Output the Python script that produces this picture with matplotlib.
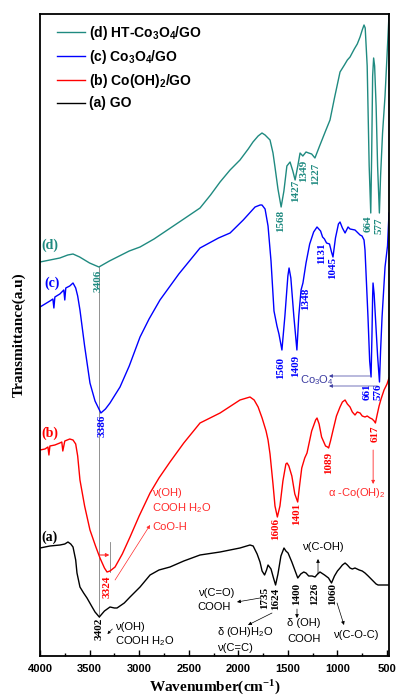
import matplotlib
matplotlib.use('Agg')
import matplotlib.pyplot as plt
from matplotlib.ticker import MultipleLocator

plt.rcParams['mathtext.fontset'] = 'custom'
plt.rcParams['mathtext.rm'] = 'Liberation Sans'
plt.rcParams['mathtext.sf'] = 'Liberation Sans:bold'
plt.rcParams['mathtext.bf'] = 'Liberation Serif:bold'
plt.rcParams['mathtext.it'] = 'Liberation Sans:italic'

SANS = ['Liberation Sans', 'DejaVu Sans']
SERIF = ['Liberation Serif', 'DejaVu Serif']

TEAL = '#1f8a80'
BLUE = '#0000ff'
RED = '#ff0000'
BLACK = '#000000'
GRAY = '#808080'

# ---------------- data (wavenumber, transmittance a.u.) ----------------
wn_d = [4000, 3900, 3800, 3720, 3667, 3600, 3500, 3406, 3300, 3200, 3100, 2991, 2850, 2700,
        2550, 2386, 2280, 2184, 2083, 1983, 1900, 1852, 1800, 1761, 1730, 1700, 1680, 1650,
        1630, 1600, 1568, 1540, 1510, 1478, 1450, 1427, 1400, 1377, 1349, 1317, 1290, 1260,
        1227, 1180, 1120, 1075, 1030, 974, 930, 900, 873, 830, 800, 772, 750, 732, 720, 700,
        680, 664, 655, 645, 635, 625, 610, 595, 577, 565, 545, 520, 500, 480]
tr_d = [394, 396, 398, 401, 402, 399, 393, 389, 395, 400, 405, 409, 417, 427,
        437, 448, 461, 474, 486, 496, 507, 514, 520, 523, 521, 518, 516, 503,
        489, 467, 449, 465, 490, 494, 485, 476, 490, 503, 500, 504, 503, 502,
        498, 510, 525, 536, 558, 584, 591, 596, 599, 607, 612, 619, 626, 631, 628, 590,
        490, 443, 500, 580, 598, 590, 550, 490, 443, 480, 523, 560, 600, 641]

wn_c = [4000, 3950, 3900, 3870, 3860, 3850, 3800, 3760, 3750, 3740, 3700, 3667, 3640, 3620,
        3597, 3550, 3496, 3445, 3386, 3340, 3294, 3250, 3193, 3100, 2991, 2900, 2790, 2600,
        2386, 2200, 2083, 1950, 1831, 1780, 1761, 1730, 1700, 1670, 1640, 1610, 1590, 1560,
        1530, 1500, 1488, 1470, 1440, 1409, 1390, 1367, 1348, 1317, 1280, 1240, 1206, 1170,
        1150, 1131, 1110, 1080, 1060, 1045, 1020, 990, 974, 950, 923, 893, 873, 823, 772,
        752, 732, 722, 692, 675, 661, 652, 645, 641, 630, 612, 595, 576, 565, 550, 520, 495, 480]
tr_c = [349, 352, 355, 357, 348, 359, 362, 366, 356, 368, 370, 373, 368, 360,
        346, 310, 273, 255, 243, 247, 253, 260, 269, 290, 319, 337, 356, 382,
        408, 418, 423, 436, 449, 451, 451, 447, 430, 395, 345, 330, 322, 306,
        340, 380, 388, 378, 340, 306, 340, 366, 373, 393, 412, 424, 429, 425,
        419, 417, 413, 412, 404, 399, 418, 432, 434, 428, 423, 429, 427, 426, 421,
        420, 416, 406, 339, 295, 279, 320, 360, 373, 362, 330, 300, 274, 305, 339, 389, 410, 443]

wn_b = [4000, 3950, 3920, 3910, 3900, 3850, 3800, 3780, 3770, 3750, 3700, 3667, 3640, 3620,
        3597, 3550, 3496, 3440, 3395, 3350, 3324, 3294, 3243, 3170, 3092, 3000, 2890, 2800,
        2689, 2550, 2386, 2184, 1983, 1882, 1840, 1800, 1760, 1720, 1700, 1680, 1650, 1630,
        1606, 1580, 1550, 1520, 1508, 1490, 1460, 1430, 1401, 1380, 1360, 1330, 1307, 1260,
        1220, 1206, 1185, 1160, 1120, 1100, 1089, 1070, 1044, 1010, 974, 950, 923, 900, 873,
        850, 823, 800, 772, 750, 722, 700, 671, 650, 630, 617, 600, 580, 560, 530, 500, 480]
tr_b = [206, 207, 209, 201, 210, 211, 213, 214, 205, 215, 217, 216, 212, 200,
        176, 150, 126, 110, 98, 88, 84, 85, 89, 102, 119, 140, 163, 178,
        194, 213, 233, 243, 256, 259, 256, 249, 238, 225, 216, 202, 172, 150,
        139, 150, 175, 192, 193, 190, 180, 162, 154, 172, 188, 198, 203, 225,
        236, 238, 232, 219, 210, 209, 208, 215, 226, 240, 249, 254, 256, 252, 249,
        244, 241, 244, 243, 240, 239, 240, 238, 237, 235, 233, 241, 250, 257, 266, 272, 278]

wn_a = [4000, 3900, 3798, 3750, 3718, 3690, 3667, 3640, 3627, 3597, 3560, 3526, 3480, 3445,
        3402, 3350, 3294, 3250, 3223, 3150, 3092, 2991, 2890, 2800, 2689, 2550, 2386, 2184,
        1983, 1882, 1850, 1810, 1781, 1760, 1735, 1715, 1700, 1670, 1645, 1624, 1600, 1570,
        1539, 1520, 1498, 1460, 1430, 1400, 1370, 1340, 1317, 1290, 1256, 1226, 1200, 1176,
        1130, 1090, 1060, 1030, 1000, 974, 950, 923, 900, 873, 850, 823, 780, 750, 722, 690,
        660, 630, 610, 590, 560, 530, 500, 480]
tr_a = [108, 110, 111, 112, 114, 112, 109, 96, 83, 69, 63, 58, 50, 44,
        39, 45, 49, 48, 48, 53, 59, 69, 81, 86, 89, 95, 101, 104,
        108, 111, 110, 102, 94, 85, 81, 86, 91, 87, 78, 71, 82, 100,
        108, 105, 103, 94, 86, 78, 82, 84, 83, 80, 80, 79, 82, 84,
        81, 78, 73, 80, 85, 88, 91, 93, 91, 88, 87, 88, 86, 85, 83, 80,
        77, 74, 72, 71, 71, 71, 71, 71]

series_labels = ['(a) GO', '(b) Co(OH)$_\\mathsf{2}$/GO', '(c) Co$_\\mathsf{3}$O$_\\mathsf{4}$/GO',
                 '(d) HT-Co$_\\mathsf{3}$O$_\\mathsf{4}$/GO']
curve_tags = ['(a)', '(b)', '(c)', '(d)']

peaks_d = [3406, 1568, 1427, 1349, 1227, 664, 577]
peaks_c = [3386, 1560, 1409, 1348, 1131, 1045, 661, 576]
peaks_b = [3324, 1606, 1401, 1089, 617]
peaks_a = [3402, 1735, 1624, 1400, 1226, 1060]

# label placement (x position, top of label) -- layout only
lab_d = [(3415, 386), (1569, 446), (1418, 476), (1337, 496), (1216, 493), (690, 441), (585, 438)]
lab_c = [(3375, 241), (1569, 299), (1418, 301), (1317, 368), (1155, 413), (1050, 399), (702, 273), (590, 273)]
lab_b = [(3324, 81), (1619, 138), (1408, 153), (1085, 204), (621, 231)]
lab_a = [(3405, 38), (1730, 69), (1619, 68), (1408, 73), (1226, 73), (1044, 73)]

# ---------------- figure ----------------
fig = plt.figure(figsize=(3.97, 6.98), dpi=100)
ax = fig.add_axes([40 / 397, 42 / 698, 349 / 397, 642 / 698])

lw = 1.0
la, = ax.plot(wn_a, tr_a, color=BLACK, lw=lw, label=series_labels[0])
lb, = ax.plot(wn_b, tr_b, color=RED, lw=lw, label=series_labels[1])
lc, = ax.plot(wn_c, tr_c, color=BLUE, lw=lw, label=series_labels[2])
ld, = ax.plot(wn_d, tr_d, color=TEAL, lw=lw, label=series_labels[3])

ax.set_xlim(4000, 480)
ax.set_ylim(0, 642)

# vertical guide lines
ax.plot([3403, 3403], [389, 39], color=GRAY, lw=0.6, zorder=0)
ax.plot([3290, 3290], [84, 114], color=GRAY, lw=0.6, zorder=0)

# peak labels
def peak_labels(peaks, pos, color):
    for p, (x, y) in zip(peaks, pos):
        ax.text(x, y, str(p), rotation=90, ha='center', va='top', color=color,
                family=SERIF, weight='bold', fontsize=8)

peak_labels(peaks_d, lab_d, TEAL)
peak_labels(peaks_c, lab_c, BLUE)
peak_labels(peaks_b, lab_b, RED)
peak_labels(peaks_a, lab_a, BLACK)

# curve tags
for tag, (x, y), col in zip(curve_tags, [(3985, 119), (3985, 223), (3955, 373), (3985, 411)],
                            [BLACK, RED, BLUE, TEAL]):
    ax.text(x, y, tag, ha='left', va='center', color=col, family=SERIF, weight='bold', fontsize=10)

def arrow(xy, xytext, color, lw=0.6, ms=5):
    ax.annotate('', xy=xy, xytext=xytext,
                arrowprops=dict(arrowstyle='-|>', color=color, lw=lw, mutation_scale=ms,
                                shrinkA=0, shrinkB=0))

ann = dict(family=SANS, fontsize=8, ha='left', va='center')
ARED = '#ff2a2a'
# red annotations
ax.text(2870, 163, 'ν(OH)', color=ARED, **ann)
ax.text(2870, 148, 'COOH H$_2$O', color=ARED, **ann)
ax.text(2870, 129, 'CoO-H', color=ARED, **ann)
arrow((2890, 131), (3243, 76), ARED, lw=0.5)
arrow((3300, 101), (3400, 101), ARED, lw=0.8)
ax.text(1095, 163, 'α -Co(OH)$_2$', color=ARED, **ann)
arrow((640, 172), (640, 206), ARED)

# blue annotation
NAVY = '#3a3aa0'
ax.text(1377, 276, 'Co$_3$O$_4$', color=NAVY, **ann)
arrow((1085, 280), (671, 280), NAVY, lw=0.5)
arrow((1085, 270), (600, 270), NAVY, lw=0.5)

# black annotations
ax.text(3240, 29, 'ν(OH)', color=BLACK, **ann)
ax.text(3240, 15, 'COOH H$_2$O', color=BLACK, **ann)
arrow((3320, 22), (3270, 27), BLACK, lw=0.5, ms=4)
ax.text(2410, 63, 'ν(C=O)', color=BLACK, **ann)
ax.text(2410, 49, 'COOH', color=BLACK, **ann)
arrow((2013, 54), (1781, 58), BLACK, lw=0.5)
ax.text(2215, 24, 'δ (OH)H$_2$O', color=BLACK, **ann)
arrow((1902, 31), (1660, 43), BLACK, lw=0.5)
ax.text(2215, 8, 'ν(C=C)', color=BLACK, **ann)
ax.text(1509, 33, 'δ (OH)', color=BLACK, **ann)
ax.text(1509, 17, 'COOH', color=BLACK, **ann)
arrow((1408, 38), (1408, 47), BLACK, lw=0.5)
ax.text(1044, 21, 'ν(C-O-C)', color=BLACK, **ann)
arrow((934, 31), (1004, 53), BLACK, lw=0.5)
ax.text(1357, 109, 'ν(C-OH)', color=BLACK, **ann)
arrow((1196, 97), (1196, 82), BLACK, lw=0.5)

# axes styling
for s in ax.spines.values():
    s.set_linewidth(1.3)
ax.set_yticks([])
ax.xaxis.set_major_locator(MultipleLocator(500))
ax.xaxis.set_minor_locator(MultipleLocator(250))
ax.tick_params(axis='x', which='major', direction='in', length=4, width=1, pad=6)
ax.tick_params(axis='x', which='minor', direction='in', length=2.5, width=1)
for t in ax.get_xticklabels():
    t.set_family(SANS)
    t.set_weight('bold')
    t.set_fontsize(8)

ax.set_xlabel('Wavenumber(cm$^{\\mathbf{-1}}$)', family=SERIF, weight='bold', fontsize=11, labelpad=2)
ax.set_ylabel('Transmittance(a.u)', family=SERIF, weight='bold', fontsize=11, labelpad=10)

leg = ax.legend(handles=[ld, lc, lb, la], loc='upper left', bbox_to_anchor=(0.048, 0.985),
                frameon=False, borderaxespad=0, borderpad=0, handlelength=2.0,
                handletextpad=0.35, labelspacing=0.45,
                prop=dict(family='Liberation Sans', weight='bold', size=10))

fig.savefig('out.png', dpi=100)
